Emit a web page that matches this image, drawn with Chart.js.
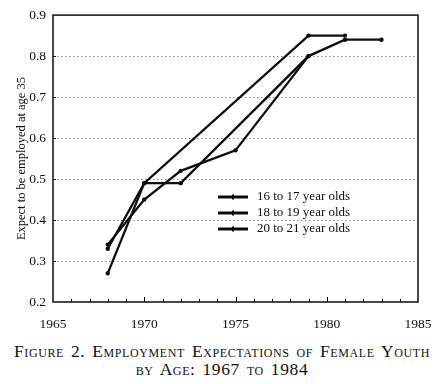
<!DOCTYPE html>
<html>
<head>
<meta charset="utf-8">
<title>Employment Expectations of Female Youth</title>
<script src="https://cdn.jsdelivr.net/npm/chart.js@4.4.1/dist/chart.umd.min.js"></script>
<style>
  body { margin: 0; background: #fff; }
  #wrap { width: 444px; height: 330px; }
  #caption {
    width: 444px;
    text-align: center;
    font-family: "Liberation Serif", "DejaVu Serif", serif;
    font-variant: small-caps;
    font-size: 17.5px;
    letter-spacing: 0.6px;
    word-spacing: 2px;
    line-height: 18px;
    padding-top: 12px;
    color: #111;
  }
</style>
</head>
<body>
<div id="wrap"><canvas id="chart" width="444" height="330"></canvas></div>
<div id="caption">Figure 2. Employment Expectations of Female Youth<br>by Age: 1967 to 1984</div>

<script>
// values
const labels = ['16 to 17 year olds', '18 to 19 year olds', '20 to 21 year olds'];

const years16 = [1968, 1970, 1979, 1981];
const values16 = [0.33, 0.49, 0.85, 0.85];

const years18 = [1968, 1970, 1972, 1979, 1981, 1983];
const values18 = [0.27, 0.49, 0.49, 0.80, 0.84, 0.84];

const years20 = [1968, 1970, 1972, 1975, 1979];
const values20 = [0.34, 0.45, 0.52, 0.57, 0.80];

const yTicks = [0.2, 0.3, 0.4, 0.5, 0.6, 0.7, 0.8, 0.9];
const xTicks = [1965, 1970, 1975, 1980, 1985];

const serif = "'Liberation Serif', 'DejaVu Serif', serif";
const ink = '#0d0d0d';

function points(xs, ys) {
    return xs.map((x, i) => ({ x: x, y: ys[i] }));
}

// box round the plot plus small inward tick marks
const frameTicks = {
    id: 'frameTicks',
    beforeDatasetsDraw(chart) {
        const { ctx, chartArea: a, scales } = chart;
        ctx.save();
        ctx.strokeStyle = ink;
        ctx.lineWidth = 1.5;
        ctx.strokeRect(a.left, a.top, a.right - a.left, a.bottom - a.top);
        ctx.lineWidth = 1;
        ctx.beginPath();
        for (let yr = xTicks[0] + 1; yr < xTicks[xTicks.length - 1]; yr++) {
            const px = Math.round(scales.x.getPixelForValue(yr)) + 0.5;
            const len = yr % 5 === 0 ? 5 : 3;
            ctx.moveTo(px, a.bottom);
            ctx.lineTo(px, a.bottom - len);
        }
        yTicks.slice(1, -1).forEach(v => {
            const py = Math.round(scales.y.getPixelForValue(v)) + 0.5;
            ctx.moveTo(a.left, py);
            ctx.lineTo(a.left + 3, py);
        });
        ctx.stroke();
        ctx.restore();
    }
};

// legend drawn inside the plot, lower right
const innerLegend = {
    id: 'innerLegend',
    afterDraw(chart) {
        const ctx = chart.ctx;
        ctx.save();
        ctx.font = '13px ' + serif;
        ctx.textBaseline = 'middle';
        chart.data.datasets.forEach((ds, i) => {
            const y = 197 + i * 16;
            ctx.strokeStyle = ink;
            ctx.lineWidth = 3;
            ctx.beginPath();
            ctx.moveTo(218, y);
            ctx.lineTo(248, y);
            ctx.stroke();
            ctx.fillStyle = ink;
            ctx.fillRect(232, y - 2.5, 2, 5);
            ctx.fillText(ds.label, 257, y);
        });
        ctx.restore();
    }
};

document.addEventListener('DOMContentLoaded', () => {
    const canvas = document.getElementById('chart');

    const lineStyle = {
        borderColor: ink,
        backgroundColor: ink,
        borderWidth: 2.3,
        pointRadius: 2.2,
        pointBackgroundColor: ink,
        pointBorderWidth: 0,
        tension: 0,
        fill: false
    };

    new Chart(canvas, {
        type: 'line',
        data: {
            datasets: [
                Object.assign({ label: labels[0], data: points(years16, values16) }, lineStyle),
                Object.assign({ label: labels[1], data: points(years18, values18) }, lineStyle),
                Object.assign({ label: labels[2], data: points(years20, values20) }, lineStyle)
            ]
        },
        options: {
            responsive: false,
            animation: false,
            devicePixelRatio: 1,
            layout: { padding: { left: 0, right: 26, top: 8, bottom: 0 } },
            plugins: {
                legend: { display: false },
                tooltip: { enabled: false }
            },
            scales: {
                x: {
                    type: 'linear',
                    min: xTicks[0],
                    max: xTicks[xTicks.length - 1],
                    afterBuildTicks: s => { s.ticks = xTicks.map(v => ({ value: v })); },
                    afterFit: s => { s.height = 28; },
                    grid: { display: false },
                    border: { display: false },
                    ticks: {
                        padding: 6,
                        color: ink,
                        font: { family: serif, size: 13.5 },
                        maxRotation: 0,
                        callback: v => String(v)
                    }
                },
                y: {
                    min: yTicks[0],
                    max: yTicks[yTicks.length - 1],
                    afterBuildTicks: s => { s.ticks = yTicks.map(v => ({ value: v })); },
                    afterFit: s => { s.width = 53; },
                    grid: {
                        drawTicks: false,
                        lineWidth: 1,
                        color: c => (c.tick && c.tick.value > 0.25 && c.tick.value < 0.85) ? '#8a8a8a' : 'rgba(0,0,0,0)'
                    },
                    border: { display: false, dash: [1.5, 2.5] },
                    title: {
                        display: true,
                        text: 'Expect to be employed at age 35',
                        color: ink,
                        font: { family: serif, size: 12.5 },
                        padding: { top: 14, bottom: 0 }
                    },
                    ticks: {
                        padding: 7,
                        color: ink,
                        font: { family: serif, size: 13.5 },
                        callback: v => v.toFixed(1)
                    }
                }
            }
        },
        plugins: [frameTicks, innerLegend]
    });
});
</script>
</body>
</html>
